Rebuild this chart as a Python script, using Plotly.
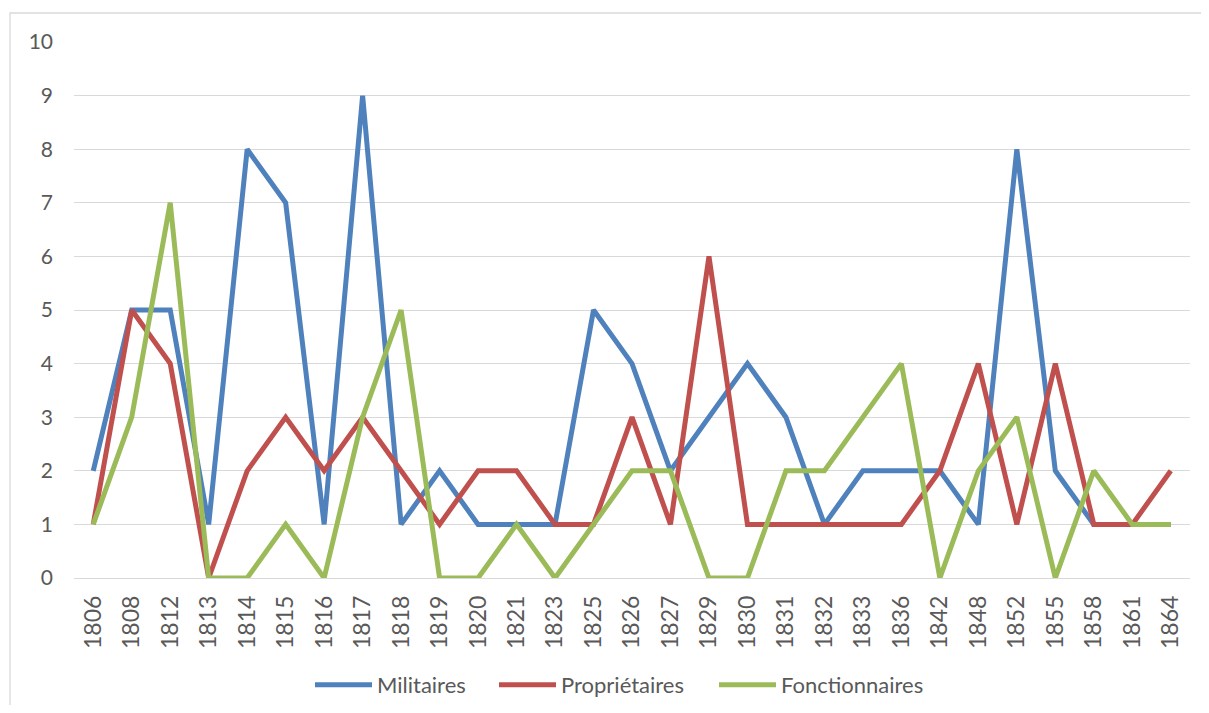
import plotly.graph_objects as go

years = ["1806", "1808", "1812", "1813", "1814", "1815", "1816", "1817", "1818", "1819",
         "1820", "1821", "1823", "1825", "1826", "1827", "1829", "1830", "1831", "1832",
         "1833", "1836", "1842", "1848", "1852", "1855", "1858", "1861", "1864"]
militaires = [2, 5, 5, 1, 8, 7, 1, 9, 1, 2, 1, 1, 1, 5, 4, 2, 3, 4, 3, 1, 2, 2, 2, 1, 8, 2, 1, 1, 1]
proprietaires = [1, 5, 4, 0, 2, 3, 2, 3, 2, 1, 2, 2, 1, 1, 3, 1, 6, 1, 1, 1, 1, 1, 2, 4, 1, 4, 1, 1, 2]
fonctionnaires = [1, 3, 7, 0, 0, 1, 0, 3, 5, 0, 0, 1, 0, 1, 2, 2, 0, 0, 2, 2, 3, 4, 0, 2, 3, 0, 2, 1, 1]

series = [("Militaires", militaires, "#4F81BD"),
          ("Propriétaires", proprietaires, "#C0504D"),
          ("Fonctionnaires", fonctionnaires, "#9BBB59")]

# page body has an 8px margin; work in figure coordinates
OFF = 8
W, H = 1209 - OFF, 713 - 2 * OFF
ml, mr, mt = 66, 19, 34
mb = H - (578 - OFF)
pw, ph = W - ml - mr, H - mt - mb

def px(x):
    return (x - OFF - ml) / pw

def py(y):
    return (H - mb - (y - OFF)) / ph

legend_ids = ["legend", "legend2", "legend3"]
legend_x = [316, 500, 720]  # screen x of legend symbol starts

fig = go.Figure()
for (name, vals, col), lid in zip(series, legend_ids):
    fig.add_trace(go.Scatter(x=years, y=vals, name=name, mode="lines",
                             line=dict(color=col, width=5), legend=lid))

LEG_SHIFT = 6
def leg(xs):
    return dict(orientation="h", x=px(xs - LEG_SHIFT), xanchor="left", y=py(685),
                yanchor="middle", font=dict(size=22, color="#595959"), itemwidth=57,
                bgcolor="rgba(0,0,0,0)")

fig.update_layout(
    width=W, height=H,
    margin=dict(l=ml, r=mr, t=mt, b=mb, autoexpand=False),
    paper_bgcolor="white", plot_bgcolor="white",
    font=dict(family="Lato, 'Open Sans', sans-serif", size=20, color="#595959"),
    xaxis=dict(type="category", tickangle=-90, showgrid=False, showline=False,
               ticks="", tickfont=dict(size=23, color="#595959"), range=[-0.5, 28.5],
               ticklabelstandoff=12, automargin=False),
    yaxis=dict(range=[0, 10], dtick=1, showgrid=True, gridcolor="#D9D9D9", gridwidth=1.3,
               zeroline=True, zerolinecolor="#D9D9D9", zerolinewidth=1.3,
               ticks="", tickfont=dict(size=21, color="#595959"), ticklabelstandoff=20,
               automargin=False),
    legend=leg(legend_x[0]),
    legend2=leg(legend_x[1]),
    legend3=leg(legend_x[2]),
    showlegend=True,
    shapes=[dict(type="rect", xref="paper", yref="paper",
                 x0=px(10), x1=px(1230), y0=py(740), y1=py(13),
                 line=dict(color="#D9D9D9", width=1.3), fillcolor="rgba(0,0,0,0)", layer="below")],
)

fig.write_html("out.html")
